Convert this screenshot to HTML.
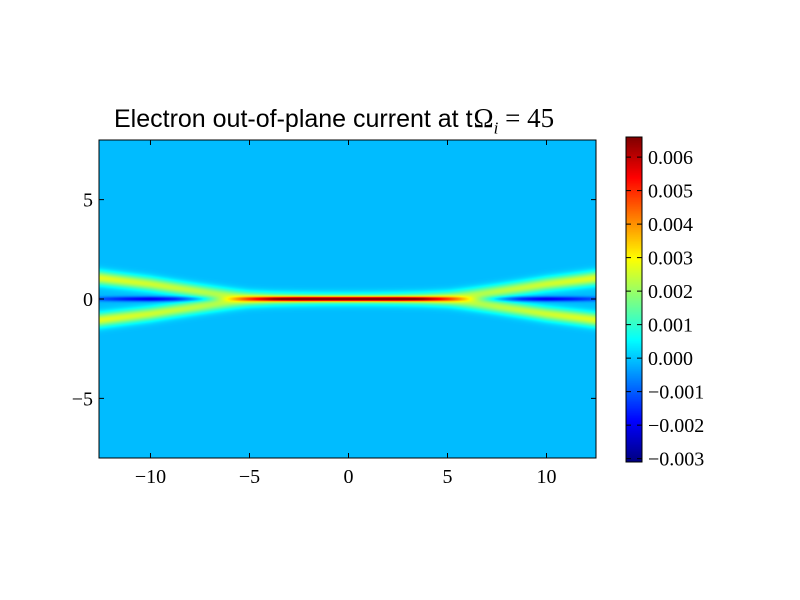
<!DOCTYPE html>
<html><head><meta charset="utf-8"><style>
body{margin:0;background:#fff;}
#wrap{position:relative;width:800px;height:600px;background:#fff;overflow:hidden;font-family:"Liberation Serif",serif;}
.t{position:absolute;font-size:19px;color:#000;white-space:nowrap;}
</style></head><body>
<div id="wrap">
<div class="t" style="left:114px;top:103px;font-family:'Liberation Sans',sans-serif;font-size:25px;">Electron out-of-plane current at t<span style="font-family:'Liberation Serif',serif;font-size:27px;margin-left:1px;">Ω<sub style="font-size:17px;font-style:italic;">i</sub> = 45</span></div>
<canvas id="hm" width="497" height="318" style="position:absolute;left:99px;top:140px;"></canvas>
<canvas id="cbar" width="16" height="325" style="position:absolute;left:626px;top:137px;"></canvas>
<svg id="ax" width="800" height="600" style="position:absolute;left:0;top:0;"></svg>
</div>
<script>
const xSamples=[0,1.25,2.5,3.75,5,6.25,7.5,8.75,10,11.25,12.5];
const centerCurrent=[0.0062,0.0062,0.0060,0.0050,0.0030,0.0010,-0.0006,-0.0016,-0.0020,-0.0016,-0.0010];
const wingAmplitude=[0.0009,0.0009,0.0010,0.0012,0.0016,0.0021,0.0024,0.0025,0.0026,0.0027,0.0028];
const wingOffset=[0,0,0,0.02,0.08,0.22,0.38,0.56,0.75,0.9,1.05];
const background=-0.0001;
const xTicks=[-10,-5,0,5,10];
const yTicks=[-5,0,5];
const cbTicks=[-0.003,-0.002,-0.001,0.000,0.001,0.002,0.003,0.004,0.005,0.006];
const xMin=-12.6,xMax=12.5,yMin=-8,yMax=8,vMin=-0.0031,vMax=0.0066;
const L=99,T=140,W=497,H=318;
const sx=x=>L+(x-xMin)/(xMax-xMin)*W;
const sy=y=>T+(yMax-y)/(yMax-yMin)*H;
function interp(arr,ax){ax=Math.abs(ax);const st=xSamples[1]-xSamples[0];let i=Math.min(Math.floor(ax/st),xSamples.length-2);const f=Math.min((ax-xSamples[i])/st,1);return arr[i]*(1-f)+arr[i+1]*f;}
function jet(f){f=Math.max(0,Math.min(1,f));const c=v=>Math.round(255*Math.max(0,Math.min(1,v)));
return [c(1.5-Math.abs(4*f-3)),c(1.5-Math.abs(4*f-2)),c(1.5-Math.abs(4*f-1))];}
function g(u){return Math.exp(-u*u);}
const hctx=document.getElementById('hm').getContext('2d');
const img=hctx.createImageData(W,H);
for(let py=0;py<H;py++){const y=yMax-(py+0.5)/H*(yMax-yMin);
for(let px=0;px<W;px++){const x=xMin+(px+0.5)/W*(xMax-xMin);
const c=interp(centerCurrent,x),a=interp(wingAmplitude,x),o=interp(wingOffset,x);
const ww=0.3+0.04*Math.abs(x)/12.5;
const v=background+c*g(y/0.12)+a*(g((y-o)/ww)+g((y+o)/ww))*(1-0.3*g(y/0.12));
const k=(py*W+px)*4,col=jet((v-vMin)/(vMax-vMin));img.data[k]=col[0];img.data[k+1]=col[1];img.data[k+2]=col[2];img.data[k+3]=255;}}
hctx.putImageData(img,0,0);
const cctx=document.getElementById('cbar').getContext('2d');
for(let py=0;py<325;py++){const v=vMax-(py+0.5)/325*(vMax-vMin);const col=jet((v-vMin)/(vMax-vMin));cctx.fillStyle='rgb('+col.join(',')+')';cctx.fillRect(0,py,16,1);}
const svg=document.getElementById('ax');const NS='http://www.w3.org/2000/svg';
function el(tag,at){const e=document.createElementNS(NS,tag);for(const k in at)e.setAttribute(k,at[k]);svg.appendChild(e);return e;}
let r=el('rect',{x:L,y:T,width:W,height:H,fill:'none',stroke:'#000','stroke-width':1});


xTicks.forEach(t=>{const x=sx(t);
el('line',{x1:x,y1:T+H,x2:x,y2:T+H-5,stroke:'#000'});el('line',{x1:x,y1:T,x2:x,y2:T+5,stroke:'#000'});
const tx=el('text',{x:x,y:T+H+25,'text-anchor':'middle','font-size':20,'font-family':'Liberation Serif,serif'});tx.textContent=(t<0?'\u2212':'')+Math.abs(t);

});
yTicks.forEach(t=>{const y=sy(t);
el('line',{x1:L,y1:y,x2:L+5,y2:y,stroke:'#000'});el('line',{x1:L+W,y1:y,x2:L+W-5,y2:y,stroke:'#000'});
const tx=el('text',{x:L-6,y:y+7,'text-anchor':'end','font-size':20,'font-family':'Liberation Serif,serif'});tx.textContent=(t<0?'\u2212':'')+Math.abs(t);

});
let cr=el('rect',{x:626,y:137,width:16,height:325,fill:'none',stroke:'#000'});


cbTicks.forEach(t=>{const y=137+(vMax-t)/(vMax-vMin)*325;
el('line',{x1:637,y1:y,x2:642,y2:y,stroke:'#000'});el('line',{x1:626,y1:y,x2:631,y2:y,stroke:'#000'});
const tx=el('text',{x:648,y:y+7,'font-size':20,'font-family':'Liberation Serif,serif'});tx.textContent=(t<0?'\u2212':'')+Math.abs(t).toFixed(3);

});
</script>
</body></html>
